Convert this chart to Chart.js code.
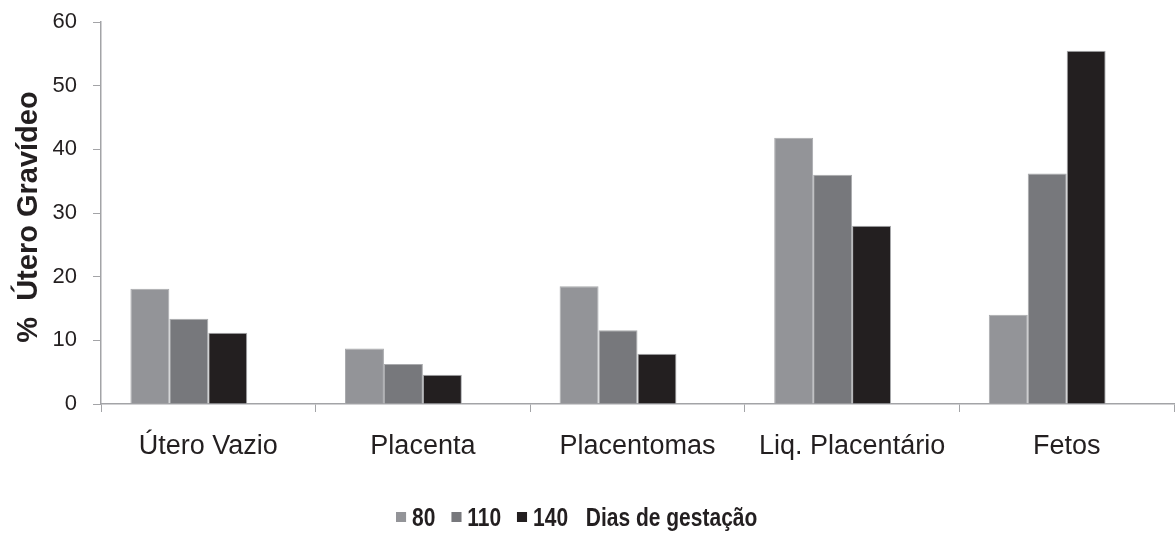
<!DOCTYPE html>
<html>
<head>
<meta charset="utf-8">
<script src="https://cdn.jsdelivr.net/npm/chart.js@4.4.1/dist/chart.umd.min.js"></script>
<style>
  body { margin: 0; background: #fff; }
  #wrap { position: relative; width: 1175px; height: 545px; }
  #legend {
    position: absolute; top: 505px; left: 396px;
    font: bold 25px "Liberation Sans", Arial, sans-serif;
    line-height: 25px; color: #231f20; white-space: nowrap;
    transform: scaleX(0.84); transform-origin: 0 0;
  }
  #legend .item { display: inline-block; margin-right: 19px; }
  #legend .box {
    display: inline-block; width: 12px; height: 10px;
    vertical-align: baseline; margin-bottom: 4px; margin-right: 7px;
  }
</style>
</head>
<body>
<div id="wrap">
  <canvas id="chart" width="1175" height="545"></canvas>
  <div id="legend"></div>
</div>
<script>
// categories and values
const categories = ['Útero Vazio', 'Placenta', 'Placentomas', 'Liq. Placentário', 'Fetos'];
const seriesNames = ['80', '110', '140'];
const dias80 = [18.1, 8.7, 18.5, 41.8, 14.0];
const dias110 = [13.4, 6.3, 11.6, 36.0, 36.2];
const dias140 = [11.2, 4.6, 7.9, 28.0, 55.5];
const colors = ['#939498', '#77787c', '#231f20'];
const yTicks = [0, 10, 20, 30, 40, 50, 60];
const legendTitle = 'Dias de gestação';

const axisGray = '#a3a4a7';
const textColor = '#231f20';

const datasets = [dias80, dias110, dias140].map((d, i) => ({
  label: seriesNames[i],
  data: d,
  backgroundColor: colors[i],
  borderColor: '#a9aaad',
  borderWidth: 1
}));
// empty slot series: the original leaves room for a fourth bar in each group
datasets.push({ label: '', data: categories.map(() => null), backgroundColor: 'transparent' });

new Chart(document.getElementById('chart'), {
  type: 'bar',
  data: { labels: categories, datasets: datasets },
  options: {
    responsive: false,
    animation: false,
    layout: { padding: { top: 22, right: 1, bottom: 0, left: 0 } },
    datasets: { bar: { categoryPercentage: 0.726, barPercentage: 1 } },
    plugins: { legend: { display: false }, tooltip: { enabled: false } },
    scales: {
      x: {
        afterFit: (s) => { s.height = 141; s.paddingLeft = 0; s.paddingRight = 0; },
        grid: { drawOnChartArea: false, color: axisGray, tickLength: 8, offset: true },
        border: { color: axisGray, width: 1.5 },
        ticks: {
          color: textColor, padding: 18,
          font: { family: '"Liberation Sans", Arial, sans-serif', size: 27 }
        }
      },
      y: {
        min: 0, max: 60,
        afterFit: (s) => { s.width = 101; s.paddingTop = 0; s.paddingBottom = 0; },
        afterBuildTicks: (s) => { s.ticks = yTicks.map(v => ({ value: v })); },
        grid: { drawOnChartArea: false, color: axisGray, tickLength: 8 },
        border: { color: axisGray, width: 1.5 },
        ticks: {
          color: textColor, padding: 16,
          font: { family: '"Liberation Sans", Arial, sans-serif', size: 22 }
        },
        title: {
          display: true, text: '%  Útero Gravídeo ', color: textColor,
          padding: { top: 12, bottom: 0 },
          font: { family: '"Liberation Sans", Arial, sans-serif', size: 29, weight: 'bold' }
        }
      }
    }
  }
});

// legend as real text below the chart
const legend = document.getElementById('legend');
seriesNames.forEach((name, i) => {
  const item = document.createElement('span');
  item.className = 'item';
  const box = document.createElement('span');
  box.className = 'box';
  box.style.background = colors[i];
  item.appendChild(box);
  item.appendChild(document.createTextNode(name));
  legend.appendChild(item);
});
const t = document.createElement('span');
t.textContent = legendTitle;
t.style.marginLeft = '2px';
legend.appendChild(t);
</script>
</body>
</html>
